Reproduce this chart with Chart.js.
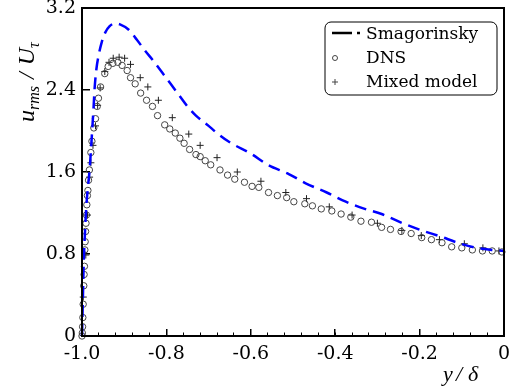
<!DOCTYPE html>
<html>
<head>
<meta charset="utf-8">
<script src="https://cdn.jsdelivr.net/npm/chart.js@4"></script>
<style>
  html, body { margin: 0; padding: 0; background: #fff; overflow: hidden; }
  #wrap { width: 509px; height: 390px; }
</style>
</head>
<body>
<div id="wrap"><canvas id="urmsChart"></canvas></div>
<script>
// tick labels
const xTickLabels = ['-1.0', '-0.8', '-0.6', '-0.4', '-0.2', '0'];
const yTickLabels = ['0', '0.8', '1.6', '2.4', '3.2'];
const seriesNames = ['Smagorinsky', 'DNS', 'Mixed model'];

// Smagorinsky (dashed line)
const smagX = [-1.0, -0.998, -0.996, -0.993, -0.99, -0.986, -0.982, -0.979, -0.976, -0.973, -0.970, -0.966,
  -0.96, -0.953, -0.945, -0.935, -0.922, -0.91, -0.89, -0.87, -0.85, -0.83, -0.81, -0.79, -0.77, -0.75,
  -0.73, -0.70, -0.68, -0.65, -0.60, -0.56, -0.51, -0.47, -0.42, -0.375, -0.33, -0.29, -0.24, -0.195,
  -0.15, -0.11, -0.065, -0.03, 0];
const smagY = [0, 0.35, 0.7, 1.0, 1.25, 1.45, 1.62, 1.8, 2.0, 2.2, 2.42, 2.6,
  2.75, 2.87, 2.96, 3.02, 3.05, 3.04, 2.99, 2.89, 2.78, 2.68, 2.57, 2.46, 2.35, 2.24,
  2.15, 2.05, 1.98, 1.89, 1.78, 1.67, 1.58, 1.49, 1.40, 1.31, 1.24, 1.19, 1.10, 1.03,
  0.97, 0.91, 0.86, 0.84, 0.83];

// DNS (circles)
const dnsX = [-1.0, -0.9992, -0.9986, -0.998, -0.9972, -0.9958, -0.995, -0.9942, -0.9932, -0.9925, -0.9915,
  -0.9905, -0.9895, -0.9885, -0.9872, -0.986, -0.9845, -0.9825, -0.979, -0.9765, -0.972, -0.968, -0.964,
  -0.961, -0.956, -0.946, -0.938, -0.927, -0.915, -0.905, -0.893, -0.885, -0.874, -0.861, -0.847, -0.833,
  -0.821, -0.804, -0.792, -0.779, -0.768, -0.758, -0.745, -0.730, -0.720, -0.708, -0.695, -0.673, -0.655,
  -0.638, -0.615, -0.597, -0.581, -0.558, -0.537, -0.515, -0.498, -0.472, -0.454, -0.433, -0.408, -0.386,
  -0.363, -0.339, -0.314, -0.290, -0.269, -0.244, -0.220, -0.195, -0.172, -0.147, -0.124, -0.100, -0.075,
  -0.051, -0.028, -0.005];
const dnsY = [0.0, 0.03, 0.09, 0.18, 0.31, 0.49, 0.60, 0.68, 0.84, 0.92, 1.02,
  1.10, 1.18, 1.28, 1.37, 1.42, 1.52, 1.62, 1.79, 1.90, 2.03, 2.12, 2.24,
  2.32, 2.43, 2.56, 2.63, 2.66, 2.67, 2.64, 2.59, 2.52, 2.46, 2.37, 2.30, 2.24,
  2.15, 2.06, 2.02, 1.98, 1.93, 1.88, 1.82, 1.77, 1.75, 1.71, 1.67, 1.62, 1.57,
  1.53, 1.50, 1.46, 1.45, 1.40, 1.37, 1.35, 1.31, 1.29, 1.27, 1.24, 1.22, 1.19,
  1.16, 1.12, 1.11, 1.06, 1.04, 1.02, 1.00, 0.96, 0.94, 0.91, 0.87, 0.86, 0.84,
  0.83, 0.83, 0.82];

// Mixed model (crosses)
const mixedX = [-0.997, -0.991, -0.987, -0.982, -0.979, -0.974, -0.968, -0.963, -0.957, -0.946, -0.936,
  -0.926, -0.912, -0.899, -0.885, -0.862, -0.844, -0.819, -0.786, -0.747, -0.720, -0.680, -0.632, -0.576,
  -0.517, -0.468, -0.414, -0.36, -0.30, -0.242, -0.196, -0.153, -0.094, -0.05, -0.012];
const mixedY = [0.38, 0.79, 1.18, 1.55, 1.69, 1.86, 2.05, 2.25, 2.42, 2.58, 2.67,
  2.71, 2.72, 2.71, 2.65, 2.52, 2.43, 2.30, 2.13, 1.97, 1.86, 1.74, 1.60, 1.51,
  1.40, 1.34, 1.26, 1.18, 1.10, 1.03, 0.98, 0.94, 0.90, 0.86, 0.83];

const toPoints = (xs, ys) => xs.map((x, i) => ({ x: x, y: ys[i] }));

// frame, axis titles and legend drawn on top
const decorPlugin = {
  id: 'decor',
  afterDraw(chart) {
    const { ctx, chartArea: a } = chart;
    ctx.save();
    ctx.setLineDash([]);
    ctx.strokeStyle = '#000';
    ctx.lineWidth = 2;
    ctx.strokeRect(a.left, a.top, a.right - a.left, a.bottom - a.top);

    // y title: u_rms / U_tau
    ctx.fillStyle = '#000';
    ctx.translate(34, 122);
    ctx.rotate(-Math.PI / 2);
    ctx.textBaseline = 'alphabetic';
    ctx.textAlign = 'left';
    const big = 'italic 24px "Liberation Serif"';
    const small = 'italic 16px "Liberation Serif"';
    let px = 0;
    const put = (txt, font, dy) => {
      ctx.font = font;
      ctx.fillText(txt, px, dy);
      px += ctx.measureText(txt).width;
    };
    put('u', big, 0);
    put('rms', small, 5);
    px += 7;
    put('/', big, 0);
    px += 7;
    put('U', big, 0);
    put('\u03C4', small, 5);
    ctx.setTransform(1, 0, 0, 1, 0, 0);

    // x title: y / delta
    ctx.font = 'italic 22px "Liberation Serif"';
    ctx.fillText('y', 443, 381);
    ctx.fillText('/', 456, 381);
    ctx.fillText('\u03B4', 468, 381);

    // legend
    const bx = 325, by = 22, bw = 172, bh = 73;
    ctx.fillStyle = '#fff';
    ctx.beginPath();
    ctx.roundRect(bx, by, bw, bh, 6);
    ctx.fill();
    ctx.lineWidth = 1;
    ctx.stroke();

    const rows = [39, 63, 87];
    ctx.font = '17px "DejaVu Serif"';
    ctx.fillStyle = '#000';
    chart.data.datasets.forEach((ds, i) => {
      ctx.fillText(ds.label, 366, rows[i]);
    });
    // Smagorinsky sample
    ctx.lineWidth = 2.5;
    ctx.beginPath();
    ctx.moveTo(332, 33); ctx.lineTo(352, 33);
    ctx.moveTo(357, 33); ctx.lineTo(360, 33);
    ctx.stroke();
    // DNS sample
    ctx.lineWidth = 1;
    ctx.strokeStyle = '#444';
    ctx.beginPath();
    ctx.arc(335, 58, 2.5, 0, Math.PI * 2);
    ctx.stroke();
    // Mixed sample
    ctx.beginPath();
    ctx.moveTo(332, 82); ctx.lineTo(338, 82);
    ctx.moveTo(335, 79); ctx.lineTo(335, 85);
    ctx.stroke();
    ctx.restore();
  }
};

const tickFont = { family: 'DejaVu Serif', size: 19 };

new Chart(document.getElementById('urmsChart'), {
  type: 'scatter',
  data: {
    datasets: [{
      type: 'line',
      label: seriesNames[0],
      data: toPoints(smagX, smagY),
      xAxisID: 'x',
      borderColor: 'blue',
      borderWidth: 2.5,
      borderDash: [12, 7],
      pointRadius: 0,
      cubicInterpolationMode: 'monotone',
      clip: false
    }, {
      label: seriesNames[1],
      data: toPoints(dnsX, dnsY),
      xAxisID: 'x',
      pointStyle: 'circle',
      pointRadius: 3.2,
      borderWidth: 1,
      borderColor: '#444',
      backgroundColor: 'rgba(0,0,0,0)',
      clip: false
    }, {
      label: seriesNames[2],
      data: toPoints(mixedX, mixedY),
      xAxisID: 'x',
      pointStyle: 'cross',
      pointRadius: 3.5,
      borderWidth: 1,
      borderColor: '#222',
      clip: false
    }]
  },
  options: {
    responsive: true,
    maintainAspectRatio: false,
    animation: false,
    layout: { padding: { top: 8, right: 1, left: 0, bottom: 0 } },
    plugins: {
      legend: { display: false },
      tooltip: { enabled: false }
    },
    scales: {
      x: {
        type: 'linear',
        position: 'bottom',
        min: -1, max: 0,
        ticks: {
          stepSize: 0.2, autoSkip: false, maxRotation: 0, padding: 14,
          color: '#000', font: tickFont,
          callback: (v, i) => xTickLabels[i]
        },
        grid: { drawOnChartArea: false, tickLength: -7, color: '#000', lineWidth: 1.5 },
        border: { display: false },
        afterFit(scale) { scale.height = 54; scale.paddingLeft = 0; scale.paddingRight = 0; }
      },
      xMinor: {
        type: 'linear',
        position: 'bottom',
        weight: -1,
        min: -1, max: 0,
        ticks: { stepSize: 0.04, display: false, autoSkip: false },
        grid: { drawOnChartArea: false, tickLength: -3.5, color: '#000', lineWidth: 1 },
        border: { display: false },
        afterFit(scale) { scale.height = 0; scale.paddingLeft = 0; scale.paddingRight = 0; }
      },
      y: {
        type: 'linear',
        min: 0, max: 3.2,
        ticks: {
          stepSize: 0.8, padding: 14, color: '#000', font: tickFont,
          callback: (v, i) => yTickLabels[i]
        },
        grid: { drawOnChartArea: false, tickLength: -8, color: '#000', lineWidth: 1.5 },
        border: { display: false },
        afterFit(scale) { scale.width = 82; scale.paddingTop = 0; scale.paddingBottom = 0; }
      }
    }
  },
  plugins: [decorPlugin]
});
</script>
</body>
</html>
